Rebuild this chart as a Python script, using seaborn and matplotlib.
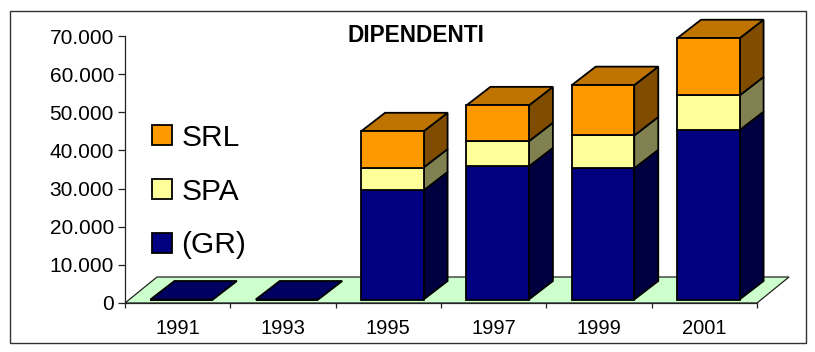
import matplotlib
matplotlib.use("Agg")
import matplotlib.pyplot as plt
from matplotlib.patches import Patch, Polygon, Rectangle
from matplotlib.ticker import FuncFormatter
import pandas as pd
import seaborn as sns

years = ["1991", "1993", "1995", "1997", "1999", "2001"]
gr_values = [0, 0, 28600, 34900, 34400, 44400]
spa_values = [0, 0, 6000, 6600, 8600, 9100]
srl_values = [0, 0, 9500, 9400, 13200, 15000]

series_names = ["(GR)", "SPA", "SRL"]
series_values = [gr_values, spa_values, srl_values]
front_colors = ["#000080", "#FFFF99", "#FF9900"]
top_colors = ["#000060", "#BFBF73", "#BF7300"]
side_colors = ["#000040", "#808050", "#804D00"]
floor_color = "#CCFFCC"
title_text = "DIPENDENTI"

W, H = 815, 352
AX_L, AX_R, AX_TOP, AX_BOTTOM = 125, 757, 36, 303
Y_MAX = 70000

sns.set_theme(style="white")
plt.rcParams["font.family"] = ["Liberation Sans", "DejaVu Sans"]

fig = plt.figure(figsize=(W / 100, H / 100), dpi=100)
fig.patch.set_facecolor("white")
ax = fig.add_axes([AX_L / W, 1 - AX_BOTTOM / H, (AX_R - AX_L) / W, (AX_BOTTOM - AX_TOP) / H])
ax.patch.set_alpha(0)

# Pixel-to-data scales for the oblique depth of the pseudo-3D boxes
px_x = 6 / (AX_R - AX_L)
px_y = Y_MAX / (AX_BOTTOM - AX_TOP)
bar_dx, bar_dy = 24 * px_x, 18.5 * px_y
floor_dx, floor_dy = 32 * px_x, 26 * px_y
front_dx, front_dy = 4 * px_x, 3.5 * px_y

table = pd.DataFrame({"anno": years, **dict(zip(series_names, series_values))})

# Floor of the plot
ax.add_patch(Polygon(
    [(-0.5, 0), (5.5, 0), (5.5 + floor_dx, floor_dy), (-0.5 + floor_dx, floor_dy)],
    closed=True, facecolor=floor_color, edgecolor="#222222", linewidth=0.9,
    clip_on=False, zorder=1))

# Front faces, stacked series by series
bottoms = [front_dy] * len(years)
all_bottoms = []
for name, color in zip(series_names, front_colors):
    before = len(ax.patches)
    sns.barplot(data=table, x="anno", y=name, bottom=bottoms, color=color, saturation=1,
                width=62.5 * px_x, edgecolor="black", linewidth=1.3, ax=ax,
                clip_on=False, zorder=4, err_kws={"linewidth": 0})
    for patch in ax.patches[before:]:
        patch.set_x(patch.get_x() + front_dx)
    all_bottoms.append(list(bottoms))
    bottoms = [b + v for b, v in zip(bottoms, table[name])]

half = 62.5 * px_x / 2
for i in range(len(years)):
    x0 = i - half + front_dx
    x1 = i + half + front_dx
    for s, name in enumerate(series_names):
        value = table[name].iloc[i]
        y0 = all_bottoms[s][i]
        y1 = y0 + value
        # Empty upper segments leave only the first series' lid on the floor
        if value == 0 and s > 0:
            continue
        if value > 0:
            ax.add_patch(Polygon(
                [(x1, y0), (x1 + bar_dx, y0 + bar_dy), (x1 + bar_dx, y1 + bar_dy), (x1, y1)],
                closed=True, facecolor=side_colors[s], edgecolor="black", linewidth=1.3,
                clip_on=False, zorder=3))
        is_top = sum(series_values[k][i] for k in range(s + 1, 3)) == 0
        if is_top:
            ax.add_patch(Polygon(
                [(x0, y1), (x1, y1), (x1 + bar_dx, y1 + bar_dy), (x0 + bar_dx, y1 + bar_dy)],
                closed=True, facecolor=top_colors[s], edgecolor="black", linewidth=1.3,
                clip_on=False, zorder=3))

# Axes, ticks between categories on the horizontal axis
ax.set_xlim(-0.5, 5.5)
ax.set_ylim(0, Y_MAX)
ax.set_xlabel("")
ax.set_ylabel("")
ax.set_yticks(range(0, Y_MAX + 1, 10000))
ax.yaxis.set_major_formatter(FuncFormatter(lambda v, _: f"{int(v):,}".replace(",", ".")))
ax.set_xticks([i - 0.5 for i in range(len(years) + 1)], minor=False)
ax.set_xticklabels([""] * (len(years) + 1))
ax.set_xticks(range(len(years)), labels=years, minor=True)
ax.tick_params(axis="x", which="major", length=3.8, width=0.9, color="#222222", bottom=True)
ax.tick_params(axis="x", which="minor", length=0, labelsize=14.5, labelcolor="black", pad=11.5, bottom=True)
ax.tick_params(axis="y", length=5, width=0.9, color="#222222", labelsize=15, labelcolor="black", pad=3, left=True)
for side in ("top", "right"):
    ax.spines[side].set_visible(False)
for side in ("left", "bottom"):
    ax.spines[side].set_visible(True)
    ax.spines[side].set_color("#222222")
    ax.spines[side].set_linewidth(0.9)
    ax.spines[side].set_zorder(2)

# Title sits inside the plot area
fig.text(416 / W, 1 - 36 / H, title_text, ha="center", va="center", fontsize=16.3,
         fontweight="bold", color="black")

# Legend listed from the top of the stack downward
handles = [Patch(facecolor=c, edgecolor="black", linewidth=1.3) for c in reversed(front_colors)]
legend = fig.legend(handles, list(reversed(series_names)), loc="center left",
                    bbox_to_anchor=(152 / W, 1 - 191.5 / H), frameon=False, fontsize=21.5,
                    handlelength=0.66, handleheight=0.66, handletextpad=0.33, labelspacing=0.86,
                    borderpad=0, borderaxespad=0, labelcolor="black")

# Outer chart frame
fig.add_artist(Rectangle((9.5 / W, 1 - 342.5 / H), (806 - 9.5) / W, (342.5 - 10.5) / H,
                         transform=fig.transFigure, fill=False, edgecolor="#333333", linewidth=1.0))

fig.savefig("out.png", dpi=100)
